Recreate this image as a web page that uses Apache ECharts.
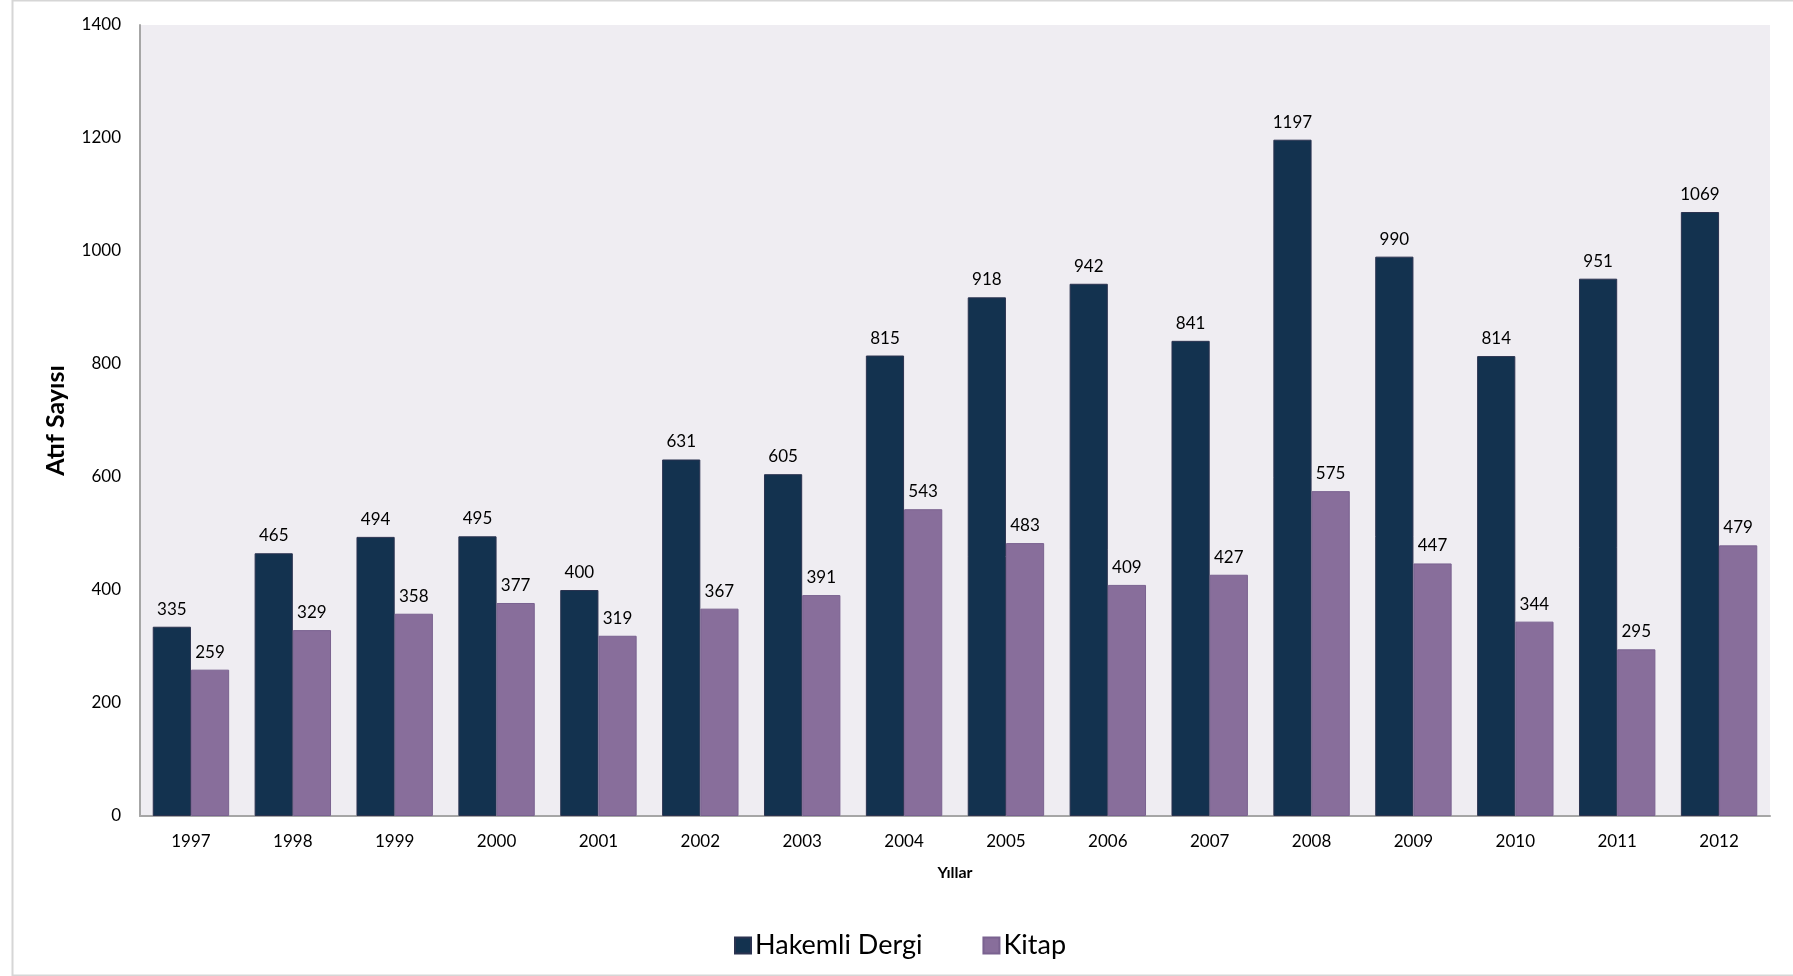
<!DOCTYPE html>
<html>
<head>
<meta charset="utf-8">
<script src="https://cdn.jsdelivr.net/npm/echarts@6/dist/echarts.min.js"></script>
<style>
html,body{margin:0;padding:0;background:#fff;}
#c{width:1793px;height:976px;}
</style>
</head>
<body>
<div id="c"></div>
<script>
var years = ['1997','1998','1999','2000','2001','2002','2003','2004','2005','2006','2007','2008','2009','2010','2011','2012'];
var hakemliDergi = [335,465,494,495,400,631,605,815,918,942,841,1197,990,814,951,1069];
var kitap = [259,329,358,377,319,367,391,543,483,409,427,575,447,344,295,479];
var yTicks = [0,200,400,600,800,1000,1200,1400];

var FONT = 'Lato, "Open Sans", sans-serif';
var chart = echarts.init(document.getElementById('c'));
var labelStyle = {show:true, position:'top', distance:9, color:'#000', fontSize:17, fontFamily:FONT};
chart.setOption({
  animation:false,
  backgroundColor:'#ffffff',
  graphic:[{
    type:'rect', left:10, top:-2, shape:{width:1800, height:975},
    style:{fill:'none', stroke:'#d6d6d6', lineWidth:2}, silent:true, z:-1
  }],
  grid:{left:140, right:23, top:25, bottom:160, show:true, backgroundColor:'#EFEDF2', borderWidth:0},
  legend:{
    left:729, top:927, itemWidth:16, itemHeight:16, itemGap:60,
    icon:'rect',
    textStyle:{fontSize:27, color:'#000', fontFamily:FONT, padding:[0,0,0,-1]},
    data:['Hakemli Dergi','Kitap']
  },
  xAxis:{
    type:'category', data:years,
    name:'Yıllar', nameLocation:'middle', nameGap:49,
    nameTextStyle:{fontSize:16, fontWeight:'bold', color:'#000', fontFamily:FONT},
    axisLine:{lineStyle:{color:'#a6a6a6', width:2}},
    axisTick:{show:false},
    axisLabel:{margin:17, fontSize:17, color:'#000', fontFamily:FONT}
  },
  yAxis:{
    type:'value', min:0, max:1400, interval:200,
    name:'Atıf Sayısı', nameLocation:'middle', nameGap:72, nameRotate:90,
    nameTextStyle:{fontSize:25, fontWeight:'bold', color:'#000', fontFamily:FONT},
    axisLine:{show:true, lineStyle:{color:'#a6a6a6', width:2}},
    axisTick:{show:false},
    splitLine:{show:false},
    axisLabel:{margin:19, fontSize:17, color:'#000', fontFamily:FONT,
      formatter:function(v){ return yTicks.indexOf(v) >= 0 ? String(v) : ''; }}
  },
  series:[
    {name:'Hakemli Dergi', type:'bar', data:hakemliDergi, barGap:'0%', barCategoryGap:'25%',
     itemStyle:{color:'#13324F', borderColor:'#2b3350', borderWidth:1}, label:labelStyle},
    {name:'Kitap', type:'bar', data:kitap,
     itemStyle:{color:'#886E9B', borderColor:'#7a6290', borderWidth:1}, label:labelStyle}
  ]
});
</script>
</body>
</html>
